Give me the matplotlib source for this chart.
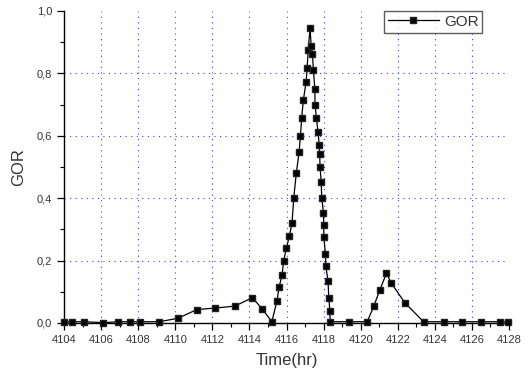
import matplotlib
matplotlib.use("Agg")
import matplotlib.pyplot as plt
from matplotlib.ticker import MultipleLocator, FuncFormatter

plt.rcParams['font.family'] = ['Liberation Sans', 'DejaVu Sans']

# GOR time series
time_hr = [4104.0, 4104.43, 4105.08, 4106.12, 4106.93, 4107.58, 4108.08, 4109.13,
           4110.15, 4111.16, 4112.17, 4113.21, 4114.16, 4114.68, 4115.21,
           4115.49, 4115.60, 4115.76, 4115.85, 4115.99, 4116.16, 4116.30, 4116.39,
           4116.53, 4116.68, 4116.75, 4116.82, 4116.91, 4117.06, 4117.11, 4117.17,
           4117.27, 4117.33, 4117.40, 4117.45, 4117.53, 4117.54, 4117.61, 4117.70,
           4117.76, 4117.79, 4117.81, 4117.87, 4117.90, 4117.99, 4118.01, 4118.01,
           4118.10, 4118.12, 4118.24, 4118.28, 4118.34, 4118.35,
           4119.38, 4120.35, 4120.71, 4121.03, 4121.39, 4121.66, 4122.38,
           4123.39, 4124.49, 4125.47, 4126.47, 4127.49, 4127.93]
gor = [0.004, 0.004, 0.004, 0.001, 0.004, 0.004, 0.004, 0.004,
       0.015, 0.043, 0.048, 0.054, 0.081, 0.046, 0.004,
       0.072, 0.115, 0.154, 0.200, 0.239, 0.280, 0.322, 0.400,
       0.481, 0.548, 0.599, 0.658, 0.715, 0.773, 0.816, 0.875,
       0.944, 0.889, 0.862, 0.810, 0.749, 0.700, 0.657, 0.613,
       0.572, 0.541, 0.499, 0.453, 0.402, 0.354, 0.313, 0.277,
       0.222, 0.182, 0.135, 0.081, 0.040, 0.004,
       0.004, 0.004, 0.054, 0.106, 0.159, 0.127, 0.065,
       0.004, 0.004, 0.004, 0.004, 0.004, 0.004]

x_limits = (4104, 4128)
y_limits = (0.0, 1.0)

fig = plt.figure(figsize=(5.31, 3.74), dpi=100)
ax = fig.add_axes([0.1205, 0.1364, 0.8381, 0.8342])

ax.plot(time_hr, gor, color='black', linewidth=0.9, marker='s',
        markersize=4.8, markerfacecolor='black', markeredgecolor='#222222',
        label='GOR', zorder=3, clip_on=False)

ax.set_xlim(*x_limits)
ax.set_ylim(*y_limits)

ax.xaxis.set_major_locator(MultipleLocator(2))
ax.xaxis.set_minor_locator(MultipleLocator(1))
ax.yaxis.set_major_locator(MultipleLocator(0.2))
ax.yaxis.set_minor_locator(MultipleLocator(0.1))

ax.xaxis.set_major_formatter(FuncFormatter(lambda v, p: f"{v:.0f}"))
ax.yaxis.set_major_formatter(FuncFormatter(lambda v, p: f"{v:.1f}".replace('.', ',')))

for side in ('top', 'right'):
    ax.spines[side].set_visible(False)
for side in ('left', 'bottom'):
    ax.spines[side].set_linewidth(1.0)
    ax.spines[side].set_color('black')

ax.tick_params(which='major', direction='out', length=5, width=0.9,
               labelsize=8, labelcolor='#333333', color='black')
ax.tick_params(which='minor', direction='out', length=3, width=0.8, color='black')

# dotted blue grid at interior major ticks
ax.grid(True, which='major', color='#3344ee', linestyle=(0, (1, 4)), linewidth=0.8)
ax.set_axisbelow(True)
fig.canvas.draw()
for gl, v in zip(ax.xaxis.get_gridlines(), ax.get_xticks()):
    if v <= x_limits[0] or v >= x_limits[1]:
        gl.set_visible(False)
for gl, v in zip(ax.yaxis.get_gridlines(), ax.get_yticks()):
    if v <= y_limits[0] or v >= y_limits[1]:
        gl.set_visible(False)

ax.set_xlabel('Time(hr)', fontsize=12, color='#333333', labelpad=6)
ax.set_ylabel('GOR', fontsize=12, color='#333333', labelpad=8)

leg = ax.legend(loc='upper right', bbox_to_anchor=(0.94, 1.0), fontsize=11,
                frameon=True, fancybox=False, handlelength=3.3,
                borderpad=0.25, handletextpad=0.35, borderaxespad=0.0)
leg.get_frame().set_edgecolor('#333333')
leg.get_frame().set_linewidth(1.0)
for t in leg.get_texts():
    t.set_color('#333333')

fig.savefig('out.png', dpi=100)
